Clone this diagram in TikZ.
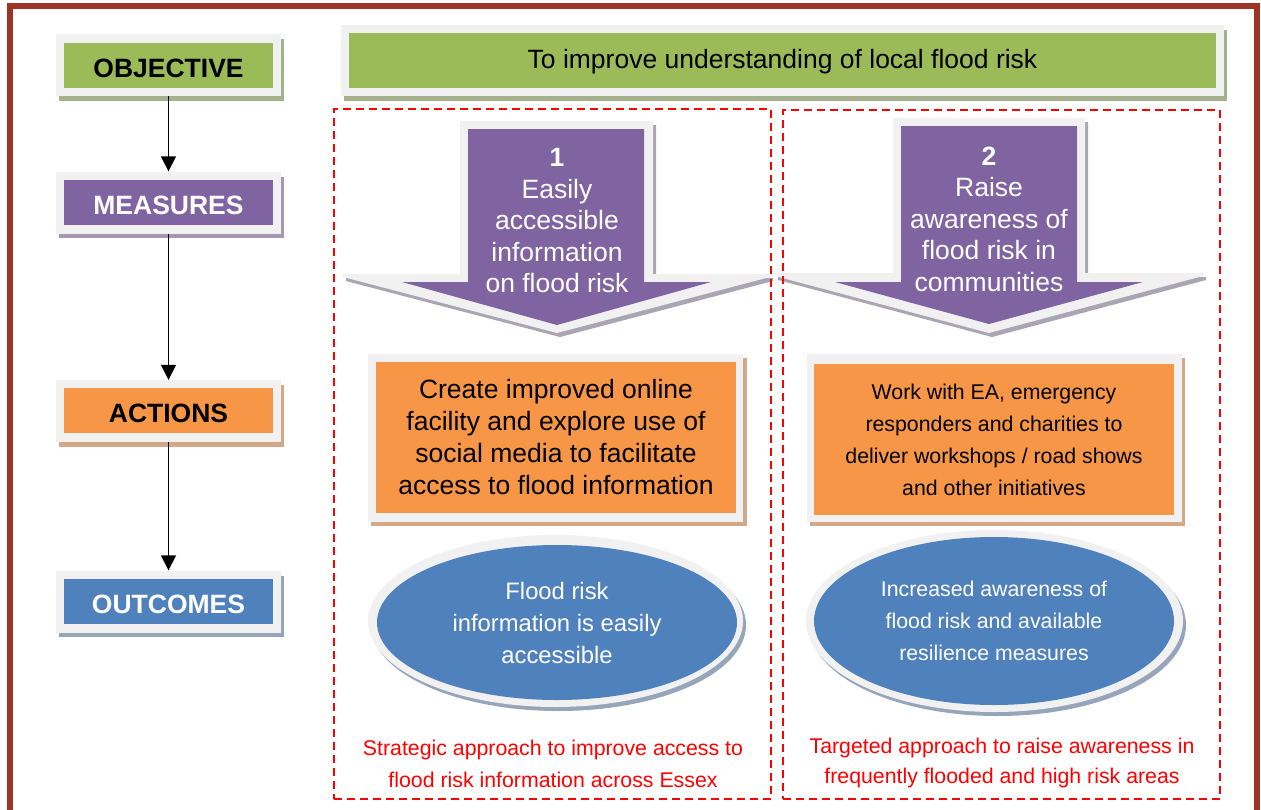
\documentclass[tikz,border=0pt]{standalone}
\usepackage{fontspec}
\setmainfont{Liberation Sans}
\usetikzlibrary{arrows.meta,shapes.geometric}
\definecolor{framecol}{RGB}{158,52,38}
\definecolor{gfill}{RGB}{155,187,89}
\definecolor{pfill}{RGB}{128,100,162}
\definecolor{ofill}{RGB}{247,150,70}
\definecolor{bfill}{RGB}{79,129,189}
\definecolor{rim}{RGB}{241,241,241}
\definecolor{gshadow}{RGB}{165,176,140}
\definecolor{pshadow}{RGB}{162,152,182}
\definecolor{oshadow}{RGB}{210,168,135}
\definecolor{bshadow}{RGB}{150,165,185}
\definecolor{ashadow}{RGB}{170,165,178}
\begin{document}
\begin{tikzpicture}[x=1pt,y=-1pt,
  rimbox/.style={fill=rim, draw=none, minimum width=225pt, minimum height=62pt, inner sep=0pt},
  sidelab/.style={draw=none, minimum width=209pt, minimum height=45pt, inner sep=0pt, font=\fontsize{26.5}{32}\selectfont\bfseries},
  sidetext/.style={inner sep=0pt, font=\fontsize{26.5}{32}\selectfont\bfseries},
  conn/.style={line width=1.7pt, -{Triangle[width=15pt,length=15pt]}},
  bigtxt/.style={align=center, font=\fontsize{26.5}{31.5}\selectfont},
  smalltxt/.style={align=center, font=\fontsize{21.3}{32}\selectfont},
  dashbox/.style={draw=red, line width=1.6pt, dash pattern=on 8pt off 5pt, inner sep=0pt},
  plainrim/.style={fill=rim, draw=none, inner sep=0pt},
  colbox/.style={draw=none, inner sep=0pt},
]
\useasboundingbox (0,0) rectangle (1261,809);
\clip (0,0) rectangle (1261,809);
\fill[white] (0,0) rectangle (1261,809);
\draw[framecol, line width=6pt] (10,6) rectangle (1257,900);

% ---- left column ----
\fill[gshadow] (59,39) rectangle (284,101);
\node[rimbox] (objR) at (168.5,65) {};
\node[sidelab, fill=gfill] (obj) at (168.5,65.5) {};
\node[sidetext, text=black] (objT) at (168.5,68) {OBJECTIVE};

\fill[pshadow] (59,177) rectangle (284,238);
\node[rimbox] (measR) at (168.5,202.5) {};
\node[sidelab, fill=pfill] (meas) at (168.5,202.5) {};
\node[sidetext, text=white] (measT) at (168.5,205.5) {MEASURES};

\fill[oshadow] (59,385) rectangle (284,447);
\node[rimbox] (actR) at (168.5,411) {};
\node[sidelab, fill=ofill] (act) at (168.5,410.5) {};
\node[sidetext, text=black] (actT) at (168.5,413.5) {ACTIONS};

\fill[bshadow] (59,576) rectangle (284,637);
\node[rimbox] (outR) at (168.5,601.5) {};
\node[sidelab, fill=bfill] (out) at (168.5,601.5) {};
\node[sidetext, text=white] (outT) at (168.5,604.5) {OUTCOMES};

\draw[conn] (objR.south) -- (measR.north);
\draw[conn] (measR.south) -- (actR.north);
\draw[conn] (actR.south) -- (outR.north);

% ---- objective banner ----
\fill[gshadow] (344,30) rectangle (1227,101);
\node[plainrim, minimum width=883pt, minimum height=71pt] (mainR) at (782.5,60.5) {};
\node[colbox, fill=gfill, minimum width=867pt, minimum height=55pt] (main) at (782.5,60.5) {};
\node[bigtxt] (mainT) at (782.5,62) {To improve understanding of local flood risk};

% ---- measure arrows ----
\fill[ashadow, shift={(3,4)}] (460,121) -- (653,121) -- (653,274) -- (770,274) -- (770,277) -- (557,333) -- (343,277) -- (343,274) -- (460,274) -- cycle;
\fill[rim] (460,121) -- (653,121) -- (653,274) -- (770,274) -- (770,277) -- (557,333) -- (343,277) -- (343,274) -- (460,274) -- cycle;
\fill[pfill] (468,129) -- (644,129) -- (644,282) -- (711,282) -- (557,325) -- (402,282) -- (468,282) -- cycle;
\node[bigtxt, text=white] (m1) at (557,221) {{\bfseries 1}\\Easily\\accessible\\information\\on flood risk};

\fill[ashadow, shift={(3,4)}] (893,118) -- (1085,118) -- (1085,273) -- (1203,273) -- (1203,276) -- (989,333) -- (775,276) -- (775,273) -- (893,273) -- cycle;
\fill[rim] (893,118) -- (1085,118) -- (1085,273) -- (1203,273) -- (1203,276) -- (989,333) -- (775,276) -- (775,273) -- (893,273) -- cycle;
\fill[pfill] (901,126) -- (1077,126) -- (1077,282) -- (1143,282) -- (989,324) -- (835,282) -- (901,282) -- cycle;
\node[bigtxt, text=white] (m2) at (989,219) {{\bfseries 2}\\Raise\\awareness of\\flood risk in\\communities};

% ---- action boxes ----
\fill[oshadow] (371,358) rectangle (747,526);
\node[plainrim, minimum width=375pt, minimum height=168pt] (a1R) at (555.5,438) {};
\node[colbox, fill=ofill, minimum width=360pt, minimum height=151pt, align=center, font=\fontsize{26.5}{32}\selectfont] (a1) at (556,437.5) {Create improved online\\facility and explore use of\\social media to facilitate\\access to flood information};

\fill[oshadow] (810,358) rectangle (1185,526);
\node[plainrim, minimum width=375pt, minimum height=168pt] (a2R) at (994.5,438) {};
\node[colbox, fill=ofill, minimum width=360pt, minimum height=151pt, smalltxt] (a2) at (994,439.5) {Work with EA, emergency\\responders and charities to\\deliver workshops / road shows\\and other initiatives};

% ---- outcome ellipses ----
\fill[bshadow] (558.5,625) ellipse [x radius=187.5pt, y radius=86pt];
\node[ellipse, plainrim, minimum width=375pt, minimum height=172pt] (o1R) at (555.5,621) {};
\node[ellipse, colbox, fill=bfill, minimum width=360pt, minimum height=155pt, text=white, align=center, font=\fontsize{23.8}{32}\selectfont] (o1) at (557,622.5) {Flood risk\\information is easily\\accessible};

\fill[bshadow] (997.5,625) ellipse [x radius=188.5pt, y radius=91pt];
\node[ellipse, plainrim, minimum width=377pt, minimum height=182pt] (o2R) at (994.5,621) {};
\node[ellipse, colbox, fill=bfill, minimum width=360pt, minimum height=168pt, text=white, smalltxt] (o2) at (994,621) {Increased awareness of\\flood risk and available\\resilience measures};

% ---- approach notes ----
\node[align=center, text=red, font=\fontsize{21.3}{31.5}\selectfont] (n1) at (553,764) {Strategic approach to improve access to\\flood risk information across Essex};
\node[align=center, text=red, font=\fontsize{21.3}{30.5}\selectfont] (n2) at (1002,763) {Targeted approach to raise awareness in\\frequently flooded and high risk areas};

% ---- dashed panels ----
\node[dashbox, minimum width=437pt, minimum height=690pt] (p1) at (552.5,454) {};
\node[dashbox, minimum width=437pt, minimum height=689pt] (p2) at (1001.5,454.5) {};
\end{tikzpicture}
\end{document}
